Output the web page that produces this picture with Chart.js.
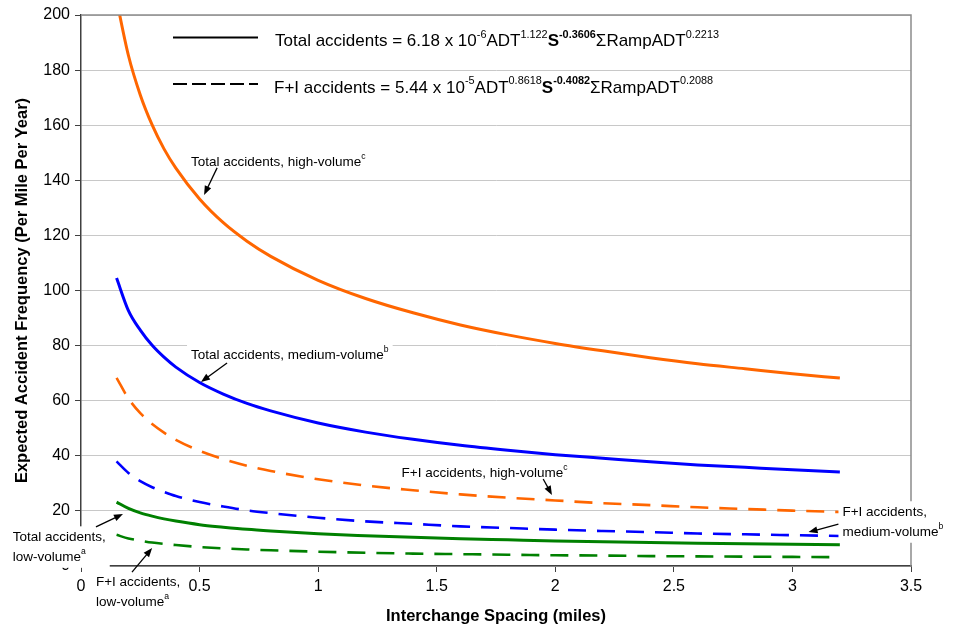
<!DOCTYPE html>
<html>
<head>
<meta charset="utf-8">
<script src="https://cdn.jsdelivr.net/npm/chart.js@4.4.1/dist/chart.umd.min.js"></script>
<style>
  body { margin: 0; background: #fff; }
  canvas { display: block; }
</style>
</head>
<body>
<canvas id="chart" width="953" height="629"></canvas>
<script>
/**
 * Data
 */
const spacing = [0.15, 0.2, 0.25, 0.3, 0.35, 0.4, 0.5, 0.6, 0.7, 0.8, 1.0, 1.2, 1.4, 1.6, 1.8, 2.0, 2.2, 2.4, 2.6, 2.8, 3.0, 3.2];

const totalHigh = [205.5, 185.3, 171.0, 160.1, 151.4, 144.4, 133.2, 124.6, 117.9, 112.4, 103.7, 97.1, 91.9, 87.5, 83.9, 80.8, 78.1, 75.6, 73.4, 71.6, 69.8, 68.2];
const totalMedium = [104.5, 92.7, 85.6, 80.1, 75.8, 72.2, 66.6, 62.4, 59.0, 56.3, 51.9, 48.6, 46.0, 43.8, 42.0, 40.4, 39.1, 37.8, 36.7, 35.8, 34.9, 34.1];
const totalLow = [23.2, 20.9, 19.3, 18.1, 17.1, 16.3, 15.0, 14.1, 13.3, 12.7, 11.7, 11.0, 10.4, 9.9, 9.5, 9.1, 8.8, 8.5, 8.3, 8.1, 7.9, 7.7];
const fiHigh = [68.3, 60.8, 55.5, 51.5, 48.4, 45.8, 41.8, 38.8, 36.4, 34.5, 31.5, 29.2, 27.5, 26.0, 24.8, 23.8, 22.8, 22.1, 21.3, 20.7, 20.1, 19.6];
const fiMedium = [38.0, 33.8, 30.8, 28.6, 26.9, 25.4, 23.2, 21.6, 20.2, 19.2, 17.5, 16.2, 15.3, 14.4, 13.8, 13.2, 12.7, 12.3, 11.8, 11.5, 11.2, 10.9];
const fiLow = [11.3, 10.0, 9.2, 8.5, 8.0, 7.6, 6.9, 6.4, 6.0, 5.7, 5.2, 4.8, 4.5, 4.3, 4.1, 3.9, 3.8, 3.6, 3.5, 3.4, 3.3, 3.2];

const xTicks = [0, 0.5, 1, 1.5, 2, 2.5, 3, 3.5];
const yTicks = [0, 20, 40, 60, 80, 100, 120, 140, 160, 180, 200];

const xTitle = 'Interchange Spacing (miles)';
const yTitle = 'Expected Accident Frequency (Per Mile Per Year)';

// Ecuaciones de la leyenda (texto con superíndices)
const legendTotal = [
  { t: 'Total accidents = 6.18 x 10' }, { t: '-6', sup: true },
  { t: 'ADT' }, { t: '1.122', sup: true },
  { t: 'S', bold: true }, { t: '-0.3606', sup: true, bold: true },
  { t: 'ΣRampADT' }, { t: '0.2213', sup: true }
];
const legendFI = [
  { t: 'F+I accidents = 5.44 x 10' }, { t: '-5', sup: true },
  { t: 'ADT' }, { t: '0.8618', sup: true },
  { t: 'S', bold: true }, { t: '-0.4082', sup: true, bold: true },
  { t: 'ΣRampADT' }, { t: '0.2088', sup: true }
];

// Etiquetas con flecha (posición en unidades de los ejes)
const callouts = [
  { lines: [[{ t: 'Total accidents, high-volume' }, { t: 'c', sup: true }]], at: [0.464, 146.6], from: [0.574, 144.5], to: [0.519, 134.7] },
  { lines: [[{ t: 'Total accidents, medium-volume' }, { t: 'b', sup: true }]], at: [0.464, 76.6], from: [0.616, 73.7], to: [0.506, 66.8] },
  { lines: [[{ t: 'F+I accidents, high-volume' }, { t: 'c', sup: true }]], at: [1.352, 33.8], from: [1.949, 31.6], to: [1.986, 25.8] },
  { lines: [[{ t: 'F+I accidents,' }], [{ t: 'medium-volume' }, { t: 'b', sup: true }]], at: [3.211, 19.6], from: [3.194, 15.2], to: [3.068, 12.3] },
  { lines: [[{ t: 'Total accidents,' }], [{ t: 'low-volume' }, { t: 'a', sup: true }]], at: [-0.288, 10.5], from: [0.063, 14.2], to: [0.177, 18.9] },
  { lines: [[{ t: 'F+I accidents,' }], [{ t: 'low-volume' }, { t: 'a', sup: true }]], at: [0.063, -5.8], from: [0.215, -2.2], to: [0.300, 6.5] }
];

const FONT = '"Liberation Sans", Arial, sans-serif';
const ORANGE = '#FF6600';
const BLUE = '#0000FF';
const GREEN = '#008000';

/**
 * Helpers
 */
const toPoints = (values) => spacing.map((s, i) => ({ x: s, y: values[i] }));

const partFont = (p, size) => (p.bold ? 'bold ' : '') + (p.sup ? size * 0.64 : size) + 'px ' + FONT;

const richWidth = (ctx, parts, size) => parts.reduce((w, p) => {
  ctx.font = partFont(p, size);
  return w + ctx.measureText(p.t).width;
}, 0);

const drawRich = (ctx, x, y, parts, size) => {
  ctx.textBaseline = 'middle';
  ctx.textAlign = 'left';
  parts.forEach((p) => {
    ctx.font = partFont(p, size);
    ctx.fillText(p.t, x, p.sup ? y - size * 0.4 : y);
    x += ctx.measureText(p.t).width;
  });
};

const drawArrow = (ctx, x1, y1, x2, y2) => {
  const ang = Math.atan2(y2 - y1, x2 - x1);
  const len = 9, half = 3.5;
  ctx.strokeStyle = '#000';
  ctx.lineWidth = 1.3;
  ctx.beginPath();
  ctx.moveTo(x1, y1);
  ctx.lineTo(x2 - Math.cos(ang) * len * 0.8, y2 - Math.sin(ang) * len * 0.8);
  ctx.stroke();
  ctx.fillStyle = '#000';
  ctx.beginPath();
  ctx.moveTo(x2, y2);
  ctx.lineTo(x2 - Math.cos(ang) * len - Math.sin(ang) * half, y2 - Math.sin(ang) * len + Math.cos(ang) * half);
  ctx.lineTo(x2 - Math.cos(ang) * len + Math.sin(ang) * half, y2 - Math.sin(ang) * len - Math.cos(ang) * half);
  ctx.closePath();
  ctx.fill();
};

// Plugin: marco, leyenda con ecuaciones y etiquetas
const extrasPlugin = {
  id: 'extras',
  afterDraw(chart) {
    const { ctx, chartArea: a, scales: { x, y } } = chart;
    ctx.save();

    // marco superior y derecho
    ctx.strokeStyle = '#8c8c8c';
    ctx.lineWidth = 1.5;
    ctx.beginPath();
    ctx.moveTo(a.left, a.top);
    ctx.lineTo(a.right, a.top);
    ctx.lineTo(a.right, a.bottom);
    ctx.stroke();

    // leyenda
    const ly1 = a.top + 22.5, ly2 = a.top + 69;
    ctx.strokeStyle = '#000';
    ctx.lineWidth = 2;
    ctx.beginPath();
    ctx.moveTo(a.left + 92, ly1);
    ctx.lineTo(a.left + 177, ly1);
    ctx.stroke();
    ctx.setLineDash([14, 5]);
    ctx.beginPath();
    ctx.moveTo(a.left + 92, ly2);
    ctx.lineTo(a.left + 177, ly2);
    ctx.stroke();
    ctx.setLineDash([]);
    ctx.fillStyle = '#000';
    drawRich(ctx, a.left + 194, ly1 + 4, legendTotal, 17);
    drawRich(ctx, a.left + 193, ly2 + 4, legendFI, 17);

    // etiquetas con fondo blanco y flecha
    const size = 13.5, lh = 20;
    callouts.forEach((c) => {
      const tx = x.getPixelForValue(c.at[0]);
      const ty = y.getPixelForValue(c.at[1]);
      const w = Math.max(...c.lines.map((l) => richWidth(ctx, l, size)));
      const h = (c.lines.length - 1) * lh;
      ctx.fillStyle = '#fff';
      ctx.fillRect(tx - 4, ty - size / 2 - 4, w + 8, h + size + 8);
      ctx.fillStyle = '#000';
      c.lines.forEach((l, i) => drawRich(ctx, tx, ty + i * lh, l, size));
      drawArrow(ctx,
        x.getPixelForValue(c.from[0]), y.getPixelForValue(c.from[1]),
        x.getPixelForValue(c.to[0]), y.getPixelForValue(c.to[1]));
    });

    ctx.restore();
  }
};

/**
 * Chart
 */
const createChart = () => {
  const ctx = document.getElementById('chart').getContext('2d');
  Chart.defaults.font.family = FONT;
  Chart.defaults.color = '#000';

  const line = (values, color, dashed) => ({
    data: toPoints(values),
    borderColor: color,
    borderWidth: dashed ? 2.6 : 3,
    borderDash: dashed ? [18, 11] : [],
    pointRadius: 0,
    fill: false,
    cubicInterpolationMode: 'monotone'
  });

  new Chart(ctx, {
    type: 'line',
    data: {
      datasets: [
        Object.assign(line(totalHigh, ORANGE, false), { clip: 0 }),
        line(totalMedium, BLUE, false),
        line(fiHigh, ORANGE, true),
        line(fiMedium, BLUE, true),
        line(totalLow, GREEN, false),
        line(fiLow, GREEN, true)
      ]
    },
    options: {
      responsive: false,
      animation: false,
      layout: { padding: { left: 0, top: 15, right: 42, bottom: 0 } },
      plugins: {
        legend: { display: false },
        tooltip: { enabled: false }
      },
      scales: {
        x: {
          type: 'linear',
          min: 0,
          max: 3.5,
          afterFit: (scale) => { scale.height = 63; },
          afterBuildTicks: (scale) => { scale.ticks = xTicks.map((v) => ({ value: v })); },
          grid: { drawOnChartArea: false, drawTicks: true, tickLength: 6, tickColor: '#404040' },
          border: { display: true, color: '#404040', width: 1.5 },
          ticks: { font: { size: 16 }, padding: 5, maxRotation: 0, callback: (v) => String(v) },
          title: { display: true, text: xTitle, font: { size: 16.5, weight: 'bold' }, padding: { top: 0, bottom: 3 } }
        },
        y: {
          min: 0,
          max: 200,
          afterFit: (scale) => { scale.width = 81; },
          afterBuildTicks: (scale) => { scale.ticks = yTicks.map((v) => ({ value: v })); },
          grid: { color: '#c8c8c8', lineWidth: 1, drawTicks: true, tickLength: 6, tickColor: '#404040' },
          border: { display: true, color: '#404040', width: 1.5 },
          ticks: { font: { size: 16 }, padding: 5, callback: (v) => String(v) },
          title: { display: true, text: yTitle, font: { size: 16.5, weight: 'bold' }, padding: { top: 13, bottom: 0 } }
        }
      }
    },
    plugins: [extrasPlugin]
  });
};

document.addEventListener('DOMContentLoaded', createChart);
</script>
</body>
</html>
